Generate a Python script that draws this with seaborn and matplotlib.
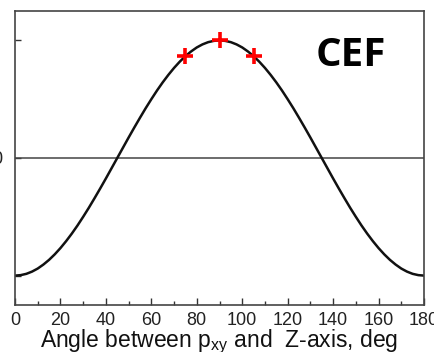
import matplotlib
matplotlib.use("Agg")
import matplotlib.pyplot as plt
import seaborn as sns
import pandas as pd
from matplotlib.ticker import MultipleLocator

# 曲线数据（从图中读取，每2.5度一个点）
angle = [0, 2.5, 5, 7.5, 10, 12.5, 15, 17.5, 20, 22.5, 25, 27.5, 30, 32.5, 35, 37.5,
         40, 42.5, 45, 47.5, 50, 52.5, 55, 57.5, 60, 62.5, 65, 67.5, 70, 72.5, 75,
         77.5, 80, 82.5, 85, 87.5, 90, 92.5, 95, 97.5, 100, 102.5, 105, 107.5, 110,
         112.5, 115, 117.5, 120, 122.5, 125, 127.5, 130, 132.5, 135, 137.5, 140,
         142.5, 145, 147.5, 150, 152.5, 155, 157.5, 160, 162.5, 165, 167.5, 170,
         172.5, 175, 177.5, 180]
signal = [-1.00, -0.996, -0.985, -0.966, -0.94, -0.906, -0.866, -0.819, -0.766, -0.707,
          -0.643, -0.574, -0.50, -0.423, -0.342, -0.259, -0.174, -0.087, 0.00,
          0.087, 0.174, 0.259, 0.342, 0.423, 0.50, 0.574, 0.643, 0.707, 0.766,
          0.819, 0.866, 0.906, 0.94, 0.966, 0.985, 0.996, 1.00,
          0.996, 0.985, 0.966, 0.94, 0.906, 0.866, 0.819, 0.766, 0.707, 0.643,
          0.574, 0.50, 0.423, 0.342, 0.259, 0.174, 0.087, 0.00,
          -0.087, -0.174, -0.259, -0.342, -0.423, -0.50, -0.574, -0.643, -0.707,
          -0.766, -0.819, -0.866, -0.906, -0.94, -0.966, -0.985, -0.996, -1.00]

# 红色标记点
mark_angle = [75, 90, 105]
mark_signal = [0.87, 1.00, 0.87]

label_text = "CEF"

sns.set_style("ticks")
plt.rcParams['font.family'] = ['Liberation Sans', 'DejaVu Sans']
plt.rcParams['mathtext.default'] = 'regular'

df = pd.DataFrame({'angle': angle, 'signal': signal})
df_mark = pd.DataFrame({'angle': mark_angle, 'signal': mark_signal})

fig = plt.figure(figsize=(4.35, 3.52), dpi=100)
ax = fig.add_axes([15 / 435, 1 - 305 / 352, (424 - 15) / 435, (305 - 11) / 352])

ax.axhline(0, color='#444444', lw=1.1, zorder=1)
sns.lineplot(data=df, x='angle', y='signal', ax=ax, color='#111111', lw=1.8, zorder=2)
sns.scatterplot(data=df_mark, x='angle', y='signal', ax=ax, marker='+', s=120,
                color='red', linewidth=2.6, zorder=3)

ax.set_xlim(0, 180)
ax.set_ylim(-1.25, 1.25)
ax.xaxis.set_major_locator(MultipleLocator(20))
ax.xaxis.set_minor_locator(MultipleLocator(10))
ax.set_yticks([-1, 0, 1])
ax.set_yticklabels(['', '0', ''])

ax.tick_params(axis='both', which='both', direction='in', colors='#333333',
               labelcolor='#222222')
ax.tick_params(axis='x', which='major', length=5, width=1, labelsize=13, pad=5)
ax.tick_params(axis='x', which='minor', length=3, width=1)
ax.tick_params(axis='y', length=4, width=1, labelsize=13, pad=9)

for sp in ax.spines.values():
    sp.set_color('#444444')
    sp.set_linewidth(1.2)

ax.set_xlabel('Angle between p$_{xy}$ and  Z-axis, deg', fontsize=16.5, labelpad=-1,
              color='#111111')
ax.set_ylabel('')

ax.text(0.82, 0.85, label_text, transform=ax.transAxes, fontsize=29,
        fontweight='bold', family=['Open Sans', 'DejaVu Sans'], color='black',
        ha='center', va='center')

fig.savefig('out.png', dpi=100)
